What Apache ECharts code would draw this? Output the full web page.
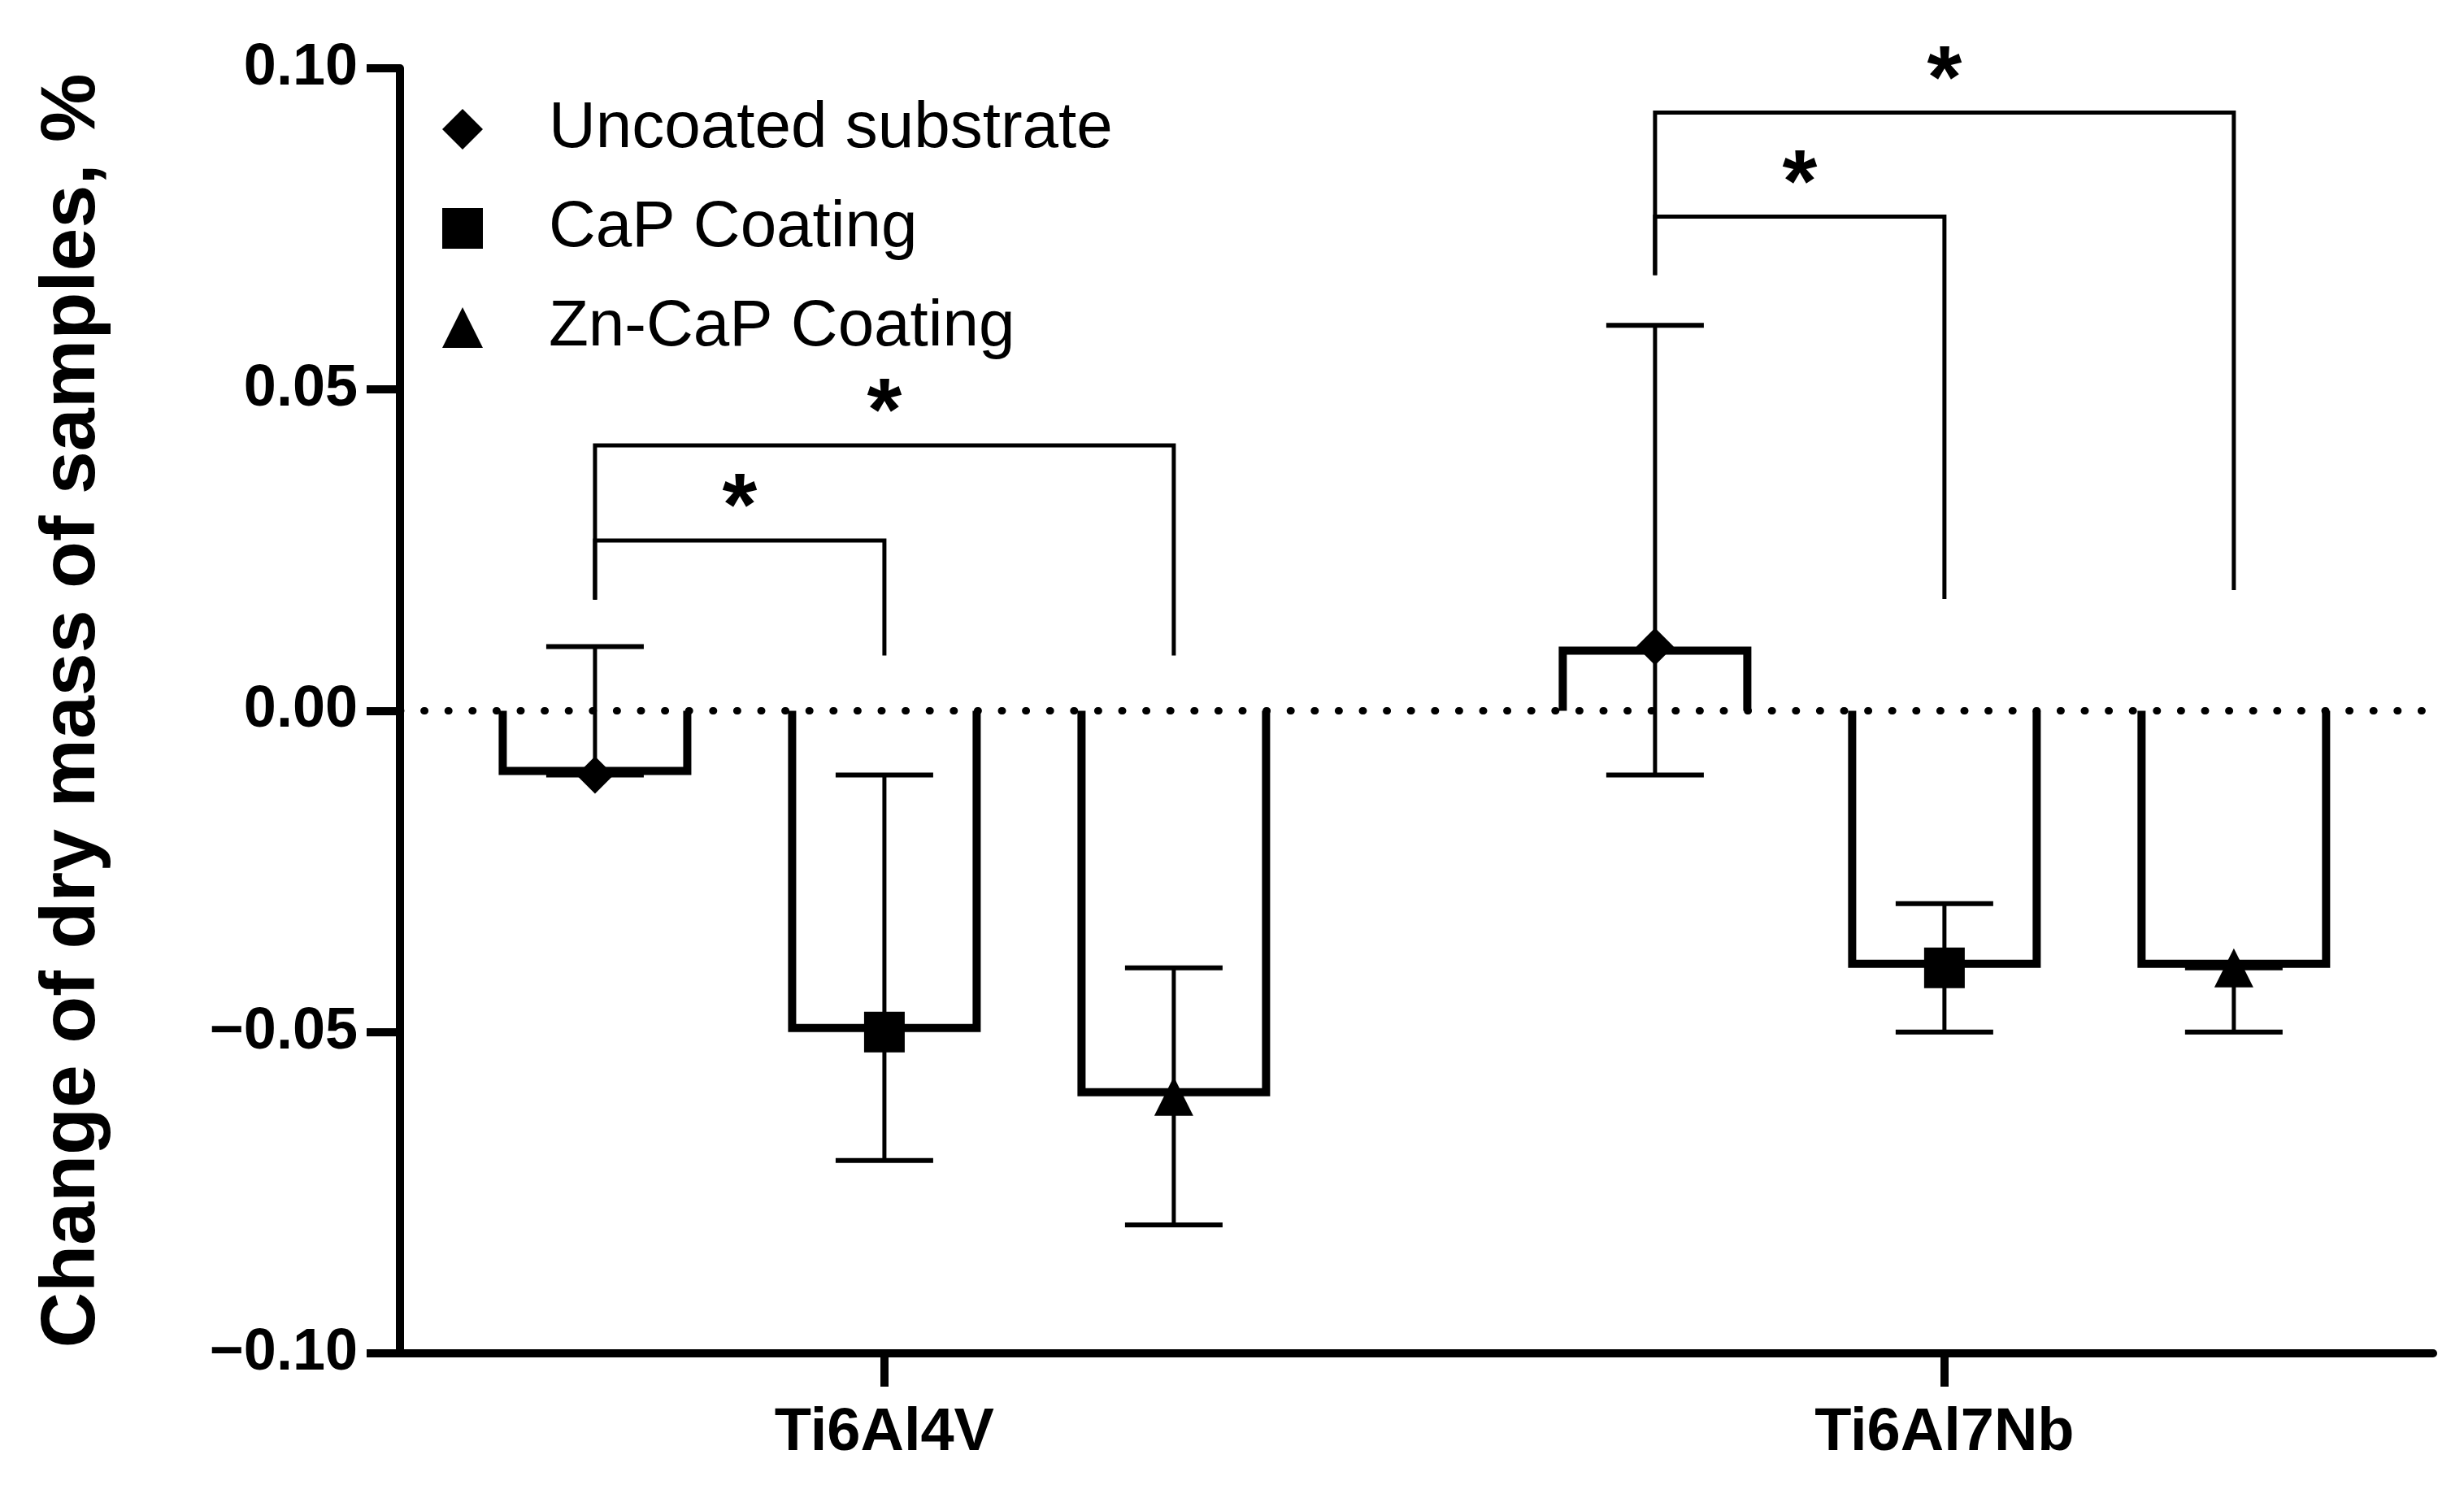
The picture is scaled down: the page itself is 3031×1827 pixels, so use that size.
<!DOCTYPE html>
<html>
<head>
<meta charset="utf-8">
<script src="https://cdn.jsdelivr.net/npm/echarts@6/dist/echarts.min.js"></script>
<style>
  html, body { margin: 0; padding: 0; background: #ffffff; }
  #chart { width: 3031px; height: 1827px; }
</style>
</head>
<body>
<div id="chart"></div>
<script>
// ---------------- data ----------------
const categories = ['Ti6Al4V', 'Ti6Al7Nb'];
const seriesNames = ['Uncoated substrate', 'CaP Coating', 'Zn-CaP Coating'];
const seriesSymbols = ['diamond', 'rect', 'triangle'];

const uncoatedMean = [-0.01, 0.01];
const uncoatedLow  = [-0.01, -0.01];
const uncoatedHigh = [0.01, 0.06];

const capMean = [-0.05, -0.04];
const capLow  = [-0.07, -0.05];
const capHigh = [-0.01, -0.03];

const znMean = [-0.06, -0.04];
const znLow  = [-0.08, -0.05];
const znHigh = [-0.04, -0.04];

const yTicks = [-0.10, -0.05, 0.00, 0.05, 0.10];

// significance brackets (category index, from series, to series, end heights, top height)
const bracketGroup    = [0, 0, 1, 1];
const bracketFrom     = [0, 0, 0, 0];
const bracketTo       = [1, 2, 1, 2];
const bracketLeftEnd  = [0.0173, 0.0173, 0.0678, 0.0678];
const bracketTop      = [0.0265, 0.0413, 0.0769, 0.0931];
const bracketRightEnd = [0.0086, 0.0086, 0.0174, 0.0188];
const bracketLabel    = ['*', '*', '*', '*'];

// ---------------- layout constants ----------------
const FONT = 'Liberation Sans, Arial, sans-serif';
const GROUP_OFFSET = 0.273;      // spacing between bars inside a group (x units)
const BAR_W = 237;               // px
const BAR_STROKE = 10;
const ERR_W = 5;
const CAP_W = 120;
const CAP_STROKE = 6;
const BRACKET_STROKE = 5;
const SYMBOL_SIZES = [46, 50, 48];

const means = [uncoatedMean, capMean, znMean];
const lows = [uncoatedLow, capLow, znLow];
const highs = [uncoatedHigh, capHigh, znHigh];

function xPos(cat, s) { return cat + 1 + (s - 1) * GROUP_OFFSET; }

const series = [];

seriesNames.forEach(function (name, s) {
  const d = categories.map(function (c, i) {
    return [xPos(i, s), means[s][i], lows[s][i], highs[s][i]];
  });
  series.push({
    name: name,
    type: 'custom',
    coordinateSystem: 'cartesian2d',
    data: d,
    z: 2,
    silent: true,
    itemStyle: { color: '#000' },
    renderItem: function (params, api) {
      const x = api.value(0), m = api.value(1), lo = api.value(2), hi = api.value(3);
      const p0 = api.coord([x, 0]);
      const pm = api.coord([x, m]);
      const pl = api.coord([x, lo]);
      const ph = api.coord([x, hi]);
      const half = BAR_W / 2;
      const yb = pm[1] + (pm[1] > p0[1] ? -BAR_STROKE / 2 : BAR_STROKE / 2);
      const xl = pm[0] - half + BAR_STROKE / 2;
      const xr = pm[0] + half - BAR_STROKE / 2;
      return {
        type: 'group',
        children: [
          {
            type: 'polyline',
            shape: { points: [[xl, p0[1]], [xl, yb], [xr, yb], [xr, p0[1]]] },
            style: { stroke: '#000', lineWidth: BAR_STROKE, fill: null, lineJoin: 'miter' }
          },
          {
            type: 'line',
            shape: { x1: pm[0], y1: pl[1], x2: pm[0], y2: ph[1] },
            style: { stroke: '#000', lineWidth: ERR_W }
          },
          {
            type: 'line',
            shape: { x1: pm[0] - CAP_W / 2, y1: pl[1], x2: pm[0] + CAP_W / 2, y2: pl[1] },
            style: { stroke: '#000', lineWidth: CAP_STROKE }
          },
          {
            type: 'line',
            shape: { x1: pm[0] - CAP_W / 2, y1: ph[1], x2: pm[0] + CAP_W / 2, y2: ph[1] },
            style: { stroke: '#000', lineWidth: CAP_STROKE }
          }
        ]
      };
    }
  });
});

seriesNames.forEach(function (name, s) {
  const sc = {
    name: name,
    type: 'scatter',
    symbol: seriesSymbols[s],
    symbolSize: SYMBOL_SIZES[s],
    itemStyle: { color: '#000', opacity: 1 },
    z: 5,
    silent: true,
    data: categories.map(function (c, i) { return [xPos(i, s), means[s][i]]; })
  };
  if (s === 0) {
    sc.markLine = {
      silent: true,
      symbol: ['none', 'none'],
      label: { show: false },
      animation: false,
      lineStyle: { color: '#000', width: 9, type: [1, 28.6], cap: 'round' },
      data: [{ yAxis: 0 }]
    };
  }
  series.push(sc);
});

const bracketData = bracketGroup.map(function (g, k) {
  return [xPos(g, bracketFrom[k]), xPos(g, bracketTo[k]), bracketLeftEnd[k], bracketTop[k], bracketRightEnd[k], k];
});

series.push({
  type: 'custom',
  name: 'brackets',
  coordinateSystem: 'cartesian2d',
  silent: true,
  z: 3,
  data: bracketData,
  renderItem: function (params, api) {
    const xa = api.value(0), xb = api.value(1);
    const pLe = api.coord([xa, api.value(2)]);
    const pT = api.coord([xa, api.value(3)]);
    const pTr = api.coord([xb, api.value(3)]);
    const pRe = api.coord([xb, api.value(4)]);
    const k = api.value(5);
    return {
      type: 'group',
      children: [
        {
          type: 'polyline',
          shape: { points: [[pLe[0], pLe[1]], [pT[0], pT[1]], [pTr[0], pTr[1]], [pRe[0], pRe[1]]] },
          style: { stroke: '#000', lineWidth: BRACKET_STROKE, fill: null, lineJoin: 'miter' }
        },
        {
          type: 'text',
          x: (pT[0] + pTr[0]) / 2,
          y: pT[1] - 37,
          style: {
            text: bracketLabel[k],
            fill: '#000',
            font: 'bold 110px ' + FONT,
            align: 'center',
            verticalAlign: 'middle'
          }
        }
      ]
    };
  }
});

const chart = echarts.init(document.getElementById('chart'), null, { renderer: 'canvas' });
chart.setOption({
  animation: false,
  backgroundColor: '#ffffff',
  textStyle: { fontFamily: FONT },
  grid: { left: 492, right: 38, top: 84, bottom: 162, containLabel: false },
  legend: {
    orient: 'vertical',
    left: 539,
    top: 114,
    itemWidth: 50,
    itemHeight: 50,
    itemGap: 42,
    selectedMode: false,
    textStyle: { fontSize: 80, fontFamily: FONT, color: '#000', lineHeight: 80, padding: [0, 0, 0, 76] },
    data: seriesNames.map(function (n, s) {
      return { name: n, icon: seriesSymbols[s], itemStyle: { color: '#000' } };
    })
  },
  xAxis: {
    type: 'value',
    min: 0.543,
    max: 2.461,
    splitLine: { show: false },
    axisLine: { show: true, onZero: false, lineStyle: { color: '#000', width: 10 } },
    axisTick: { show: true, length: 41, customValues: [1, 2], lineStyle: { color: '#000', width: 10 } },
    axisLabel: {
      show: true,
      customValues: [1, 2],
      margin: 62,
      fontSize: 74,
      fontWeight: 'bold',
      fontFamily: FONT,
      color: '#000',
      formatter: function (v) { return categories[Math.round(v) - 1] || ''; }
    }
  },
  yAxis: {
    type: 'value',
    min: yTicks[0],
    max: yTicks[yTicks.length - 1],
    interval: 0.05,
    name: 'Change of dry mass of samples, %',
    nameLocation: 'middle',
    nameGap: 355,
    nameTextStyle: { fontSize: 95, fontWeight: 'bold', fontFamily: FONT, color: '#000' },
    splitLine: { show: false },
    axisLine: { show: true, onZero: false, lineStyle: { color: '#000', width: 10 } },
    axisTick: { show: true, length: 41, lineStyle: { color: '#000', width: 10 } },
    axisLabel: {
      margin: 52,
      fontSize: 72,
      fontWeight: 'bold',
      fontFamily: FONT,
      color: '#000',
      formatter: function (v) {
        const a = Math.abs(v) < 1e-9 ? 0 : v;
        return (a < 0 ? '\u2212' : '') + Math.abs(a).toFixed(2);
      }
    }
  },
  series: series
});
</script>
</body>
</html>
